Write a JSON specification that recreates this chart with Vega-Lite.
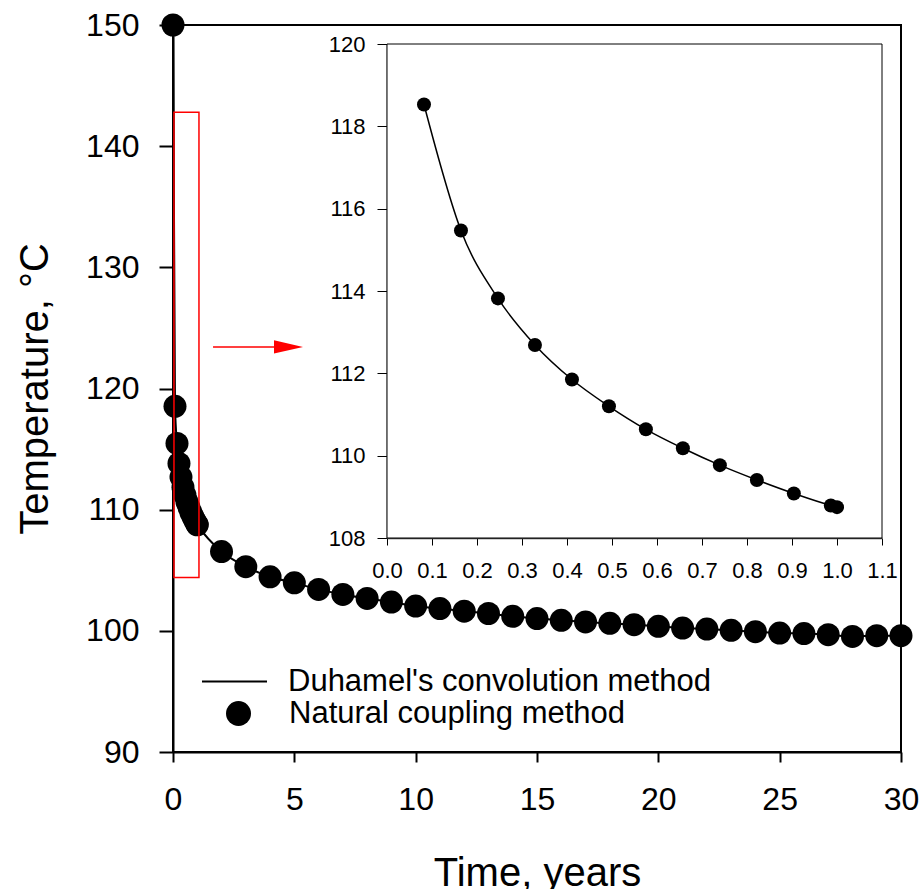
{
  "$schema": "https://vega.github.io/schema/vega-lite/v6.json",
  "width": 728,
  "height": 727,
  "autosize": {"type": "none"},
  "padding": {"left": 173, "top": 25, "right": 20, "bottom": 137},
  "background": "white",
  "config": {
    "font": "Liberation Sans",
    "view": {"stroke": "black", "strokeWidth": 2},
    "axis": {"grid": false, "labelColor": "black", "titleColor": "black", "domainColor": "black", "tickColor": "black", "titleFontWeight": "normal", "labelFlush": false, "labelOverlap": false},
    "legend": {"labelFontSize": 31, "labelColor": "black", "labelFont": "Liberation Sans", "labelLimit": 0, "padding": 0, "title": null}
  },
  "datasets": {
    "main": [
      {"t": 0, "T": 150},
      {"t": 0.0822, "T": 118.53},
      {"t": 0.1644, "T": 115.47},
      {"t": 0.2466, "T": 113.82},
      {"t": 0.3288, "T": 112.69},
      {"t": 0.411, "T": 111.85},
      {"t": 0.4932, "T": 111.2},
      {"t": 0.5753, "T": 110.64},
      {"t": 0.6575, "T": 110.18},
      {"t": 0.7397, "T": 109.77},
      {"t": 0.8219, "T": 109.41},
      {"t": 0.9041, "T": 109.08},
      {"t": 0.9863, "T": 108.79},
      {"t": 1.0, "T": 108.75},
      {"t": 2, "T": 106.54},
      {"t": 3, "T": 105.29},
      {"t": 4, "T": 104.46},
      {"t": 5, "T": 103.96},
      {"t": 6, "T": 103.42},
      {"t": 7, "T": 103.0},
      {"t": 8, "T": 102.67},
      {"t": 9, "T": 102.37},
      {"t": 10, "T": 102.04},
      {"t": 11, "T": 101.84},
      {"t": 12, "T": 101.62},
      {"t": 13, "T": 101.43},
      {"t": 14, "T": 101.2},
      {"t": 15, "T": 101.01},
      {"t": 16, "T": 100.87},
      {"t": 17, "T": 100.73},
      {"t": 18, "T": 100.62},
      {"t": 19, "T": 100.51},
      {"t": 20, "T": 100.37},
      {"t": 21, "T": 100.23},
      {"t": 22, "T": 100.15},
      {"t": 23, "T": 100.04},
      {"t": 24, "T": 99.93},
      {"t": 25, "T": 99.82},
      {"t": 26, "T": 99.77},
      {"t": 27, "T": 99.68},
      {"t": 28, "T": 99.54},
      {"t": 29, "T": 99.6},
      {"t": 30, "T": 99.6}
    ],
    "inset": [
      {"t": 0.0822, "T": 118.53},
      {"t": 0.1644, "T": 115.47},
      {"t": 0.2466, "T": 113.82},
      {"t": 0.3288, "T": 112.69},
      {"t": 0.411, "T": 111.85},
      {"t": 0.4932, "T": 111.2},
      {"t": 0.5753, "T": 110.64},
      {"t": 0.6575, "T": 110.18},
      {"t": 0.7397, "T": 109.77},
      {"t": 0.8219, "T": 109.41},
      {"t": 0.9041, "T": 109.08},
      {"t": 0.9863, "T": 108.79},
      {"t": 1.0, "T": 108.75}
    ]
  },
  "layer": [
    {
      "layer": [
        {
          "data": {"name": "main"},
          "mark": {"type": "line", "strokeWidth": 2, "interpolate": "monotone"},
          "encoding": {
            "x": {"field": "t", "type": "quantitative", "scale": {"domain": [0, 30], "nice": false, "zero": false},
              "axis": {"title": "Time, years", "values": [0, 5, 10, 15, 20, 25, 30], "labelFontSize": 32, "titleFontSize": 40, "tickSize": 10, "tickWidth": 2, "domainWidth": 2, "labelPadding": 22, "titlePadding": 38}},
            "y": {"field": "T", "type": "quantitative", "scale": {"domain": [90, 150], "nice": false, "zero": false},
              "axis": {"title": "Temperature, °C", "values": [90, 100, 110, 120, 130, 140, 150], "labelFontSize": 32, "titleFontSize": 40, "tickSize": 14, "tickWidth": 2, "domainWidth": 2, "labelPadding": 20, "titlePadding": 30}},
            "stroke": {"datum": "Duhamel's convolution method", "type": "nominal", "scale": {"range": ["black"]},
              "legend": {"orient": "none", "legendX": 28, "legendY": 623, "symbolType": "stroke", "symbolSize": 4225, "symbolStrokeWidth": 2, "symbolStrokeColor": "black", "labelOffset": 20}}
          }
        },
        {
          "data": {"name": "main"},
          "mark": {"type": "point", "filled": true, "opacity": 1, "size": 529},
          "encoding": {
            "x": {"field": "t", "type": "quantitative"},
            "y": {"field": "T", "type": "quantitative"},
            "fill": {"datum": "Natural coupling method", "type": "nominal", "scale": {"range": ["black"]},
              "legend": {"orient": "none", "legendX": 50, "legendY": 673, "symbolType": "circle", "symbolSize": 625, "symbolFillColor": "black", "symbolOpacity": 1, "labelOffset": 35}}
          }
        },
        {
          "data": {"values": [{"t": 0.04, "t2": 1.07, "T": 104.4, "T2": 142.8}]},
          "mark": {"type": "rect", "fill": null, "fillOpacity": 0, "stroke": "red", "strokeWidth": 1.5},
          "encoding": {
            "x": {"field": "t", "type": "quantitative"},
            "x2": {"field": "t2"},
            "y": {"field": "T", "type": "quantitative"},
            "y2": {"field": "T2"}
          }
        },
        {
          "data": {"values": [{"t": 1.65, "t2": 4.3, "T": 123.43}]},
          "mark": {"type": "rule", "color": "red", "strokeWidth": 1.5},
          "encoding": {
            "x": {"field": "t", "type": "quantitative"},
            "x2": {"field": "t2"},
            "y": {"field": "T", "type": "quantitative"}
          }
        },
        {
          "data": {"values": [{"t": 4.76, "T": 123.43}]},
          "mark": {"type": "point", "shape": "M-1,-0.46L1,0L-1,0.46Z", "filled": true, "color": "red", "opacity": 1, "size": 841},
          "encoding": {
            "x": {"field": "t", "type": "quantitative"},
            "y": {"field": "T", "type": "quantitative"}
          }
        }
      ]
    },
    {
      "layer": [
        {
          "data": {"values": [{"t": 0, "t2": 1.1, "T": 108, "T2": 120}]},
          "mark": {"type": "rect", "fill": "white", "stroke": "black", "strokeWidth": 1},
          "encoding": {
            "x": {"field": "t", "type": "quantitative", "scale": {"domain": [0, 1.1], "range": [214, 709], "nice": false, "zero": false},
              "axis": {"orient": "bottom", "offset": -214, "title": null, "values": [0, 0.1, 0.2, 0.3, 0.4, 0.5, 0.6, 0.7, 0.8, 0.9, 1.0, 1.1], "format": ".1f", "labelFontSize": 22, "tickSize": 7, "labelPadding": 15, "domainColor": "#444", "domainWidth": 1.5}},
            "x2": {"field": "t2"},
            "y": {"field": "T", "type": "quantitative", "scale": {"domain": [108, 120], "range": [513, 19], "nice": false, "zero": false},
              "axis": {"orient": "left", "offset": -214, "title": null, "values": [108, 110, 112, 114, 116, 118, 120], "format": "d", "labelFontSize": 22, "tickSize": 10, "labelPadding": 12, "domainColor": "#444", "domainWidth": 1.5}},
            "y2": {"field": "T2"}
          }
        },
        {
          "data": {"name": "inset"},
          "mark": {"type": "line", "color": "black", "strokeWidth": 1.5, "interpolate": "monotone"},
          "encoding": {
            "x": {"field": "t", "type": "quantitative"},
            "y": {"field": "T", "type": "quantitative"}
          }
        },
        {
          "data": {"name": "inset"},
          "mark": {"type": "point", "filled": true, "color": "black", "opacity": 1, "size": 196},
          "encoding": {
            "x": {"field": "t", "type": "quantitative"},
            "y": {"field": "T", "type": "quantitative"}
          }
        }
      ]
    }
  ],
  "resolve": {"scale": {"x": "independent", "y": "independent"}, "axis": {"x": "independent", "y": "independent"}}
}
